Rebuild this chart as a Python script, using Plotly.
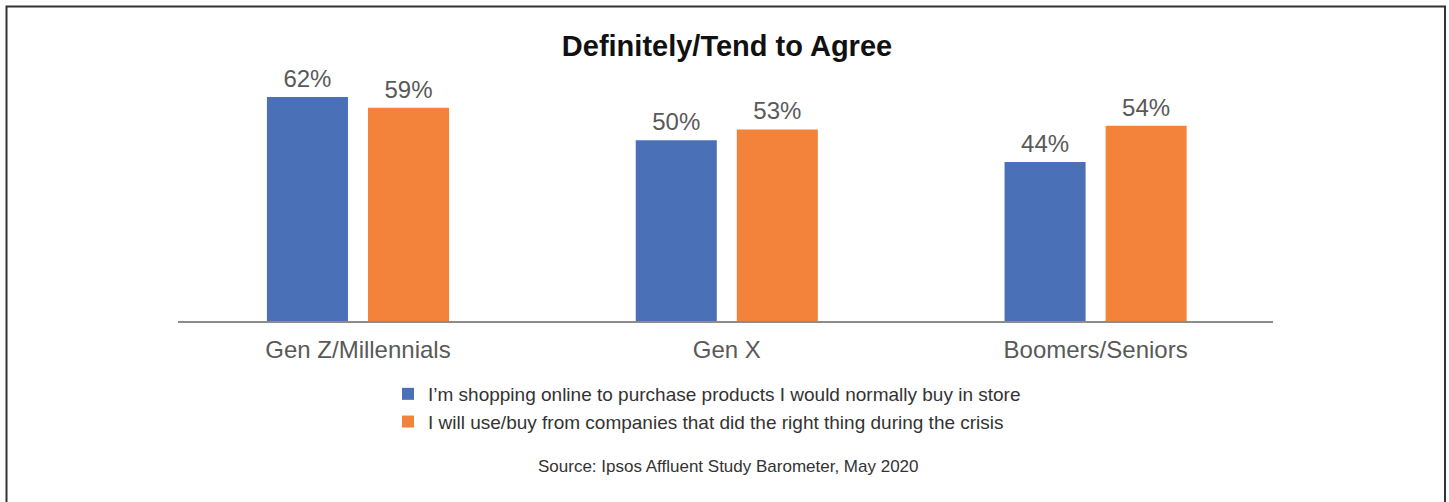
import plotly.graph_objects as go

categories = ["Gen Z/Millennials", "Gen X", "Boomers/Seniors"]
series_names = [
    "I\u2019m shopping online to purchase products I would normally buy in store",
    "I will use/buy from companies that did the right thing during the crisis",
]
online_values = [62, 50, 44]
right_thing_values = [59, 53, 54]
colors = ["#4A71B8", "#F3833A"]
source_text = "Source: Ipsos Affluent Study Barometer, May 2020"
title_text = "Definitely/Tend to Agree"

FONT = "Liberation Sans, Arial, Helvetica, sans-serif"

fig = go.Figure()
for i, (name, vals, col) in enumerate(zip(series_names, [online_values, right_thing_values], colors)):
    fig.add_trace(go.Bar(
        x=categories, y=vals, name=name, marker_color=col, marker_line_width=0,
        offsetgroup=str(i), legendgroup=str(i),
    ))
for i, vals in enumerate([online_values, right_thing_values]):
    fig.add_trace(go.Scatter(
        x=categories, y=vals, mode="markers+text", offsetgroup=str(i),
        marker=dict(size=5, color="rgba(0,0,0,0)"),
        text=[f"{v}%" for v in vals], textposition="top center",
        textfont=dict(size=24, color="#595959", family=FONT),
        showlegend=False, hoverinfo="skip", cliponaxis=False,
    ))

fig.update_layout(
    width=1449, height=502,
    margin=dict(l=178, r=176, t=68, b=181),
    paper_bgcolor="white", plot_bgcolor="white",
    barmode="group", bargap=0.452, bargroupgap=0.198,
    scattermode="group", scattergap=0.452,
    font=dict(family=FONT),
    title=dict(text=f"<b>{title_text}</b>", x=(727 - 178) / 1095, xref="paper", xanchor="center",
               y=1 - 46 / 502, yanchor="middle",
               font=dict(size=29, color="#111111", family=FONT)),
    showlegend=True,
    legend=dict(orientation="v", x=(388 - 178) / 1095, xanchor="left",
                y=(321 - 375) / 253, yanchor="top",
                font=dict(size=19, color="#333333", family=FONT),
                itemwidth=30, tracegroupgap=0, bgcolor="rgba(0,0,0,0)"),
    xaxis=dict(showline=True, linecolor="#8c8c8c", linewidth=1.5, ticks="",
               range=[-0.488, 2.481], ticklabelstandoff=6,
               tickfont=dict(size=24, color="#595959", family=FONT),
               showgrid=False, zeroline=False),
    yaxis=dict(range=[0, 70], visible=False, showgrid=False, zeroline=False),
    annotations=[dict(text=source_text,
                      xref="paper", yref="paper", x=(728 - 178) / 1095, y=(321 - 466) / 253,
                      xanchor="center", yanchor="middle", showarrow=False,
                      font=dict(size=17, color="#333333", family=FONT))],
    shapes=[dict(type="rect", xref="paper", yref="paper",
                 x0=(6.5 - 178) / 1095, x1=(1445 - 178) / 1095,
                 y0=(321 - 520) / 253, y1=(321 - 6.5) / 253,
                 line=dict(color="#333333", width=2), fillcolor="rgba(0,0,0,0)")],
)

fig.write_html("out.html")
